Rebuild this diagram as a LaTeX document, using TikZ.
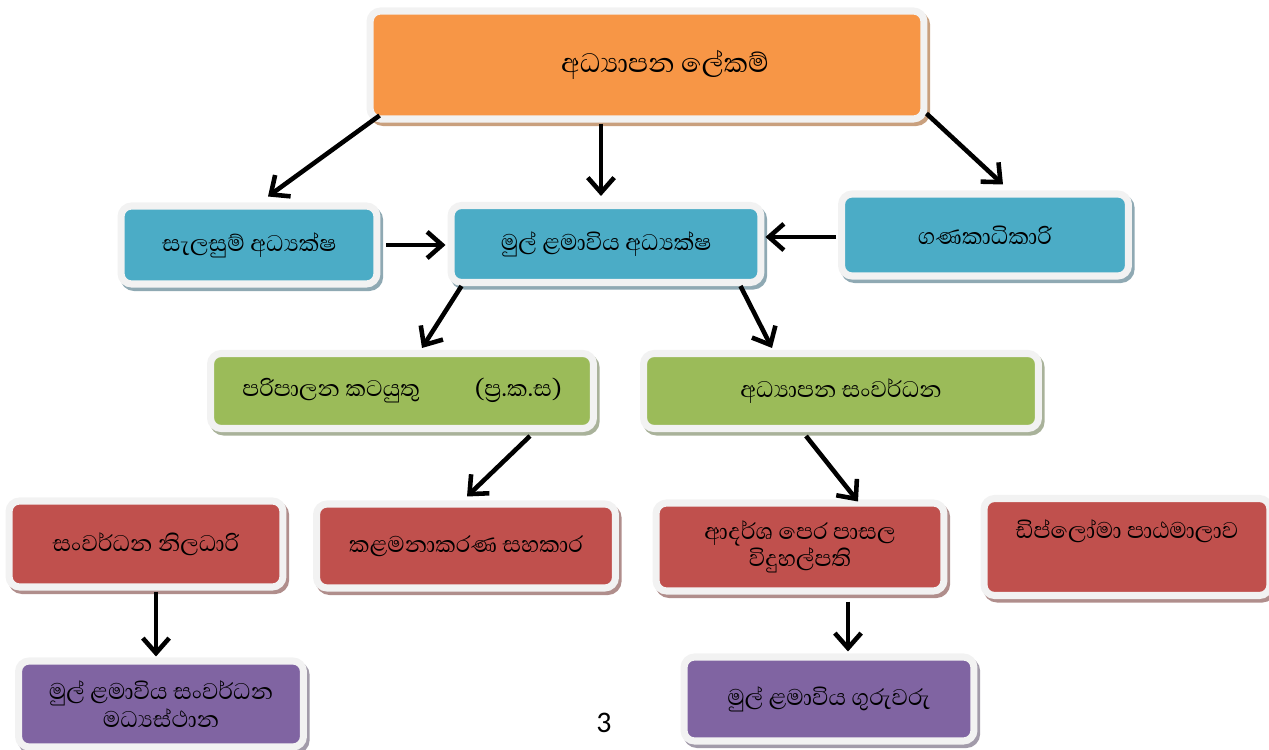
\documentclass[tikz,border=0pt]{standalone}
\usepackage{fontspec}
\setmainfont{Carlito}
\newfontfamily\sinhalafont[Script=Sinhala]{Abhaya Libre}
\usetikzlibrary{arrows.meta,shadows,calc}
\definecolor{rim}{HTML}{F2F2F2}
\definecolor{orangefill}{HTML}{F79646}
\definecolor{orangeshade}{HTML}{C9A07E}
\definecolor{bluefill}{HTML}{4BACC6}
\definecolor{blueshade}{HTML}{8FA9B3}
\definecolor{greenfill}{HTML}{9BBB59}
\definecolor{greenshade}{HTML}{A9B29A}
\definecolor{redfill}{HTML}{C0504D}
\definecolor{redshade}{HTML}{B08E8C}
\definecolor{purplefill}{HTML}{8064A2}
\definecolor{purpleshade}{HTML}{A29BAA}
\tikzset{
  box/.style={rounded corners=6pt, draw=rim, line width=4pt, inner sep=0pt,
    align=center, font=\sinhalafont\fontsize{16.5}{15.5}\selectfont},
  shade/.style={general shadow={fill=#1, draw=#1, line width=4pt,
    shadow xshift=1.5pt, shadow yshift=-2pt}},
  orangebox/.style={box, fill=orangefill, shade=orangeshade},
  bluebox/.style={box, fill=bluefill, shade=blueshade},
  greenbox/.style={box, fill=greenfill, shade=greenshade},
  redbox/.style={box, fill=redfill, shade=redshade},
  purplebox/.style={box, fill=purplefill, shade=purpleshade},
  arr/.style={-{Straight Barb[length=8.5pt,width=15pt]}, line width=2.6pt}
}
\begin{document}
\begin{tikzpicture}[x=0.02cm,y=-0.02cm]
    \useasboundingbox (0,0) rectangle (1269,750);
    \node [orangebox, minimum width=11.08cm, minimum height=2.16cm, font=\sinhalafont\fontsize{19.5}{20}\selectfont] (sec) at (647,65) {\hspace*{0.72cm}අධ්^^^^200dයාපන ලේකම්};
    \node [bluebox, minimum width=5.12cm, minimum height=1.56cm] (plan) at (249,245) {සැලසුම් අධ්^^^^200dයක්ෂ};
    \node [bluebox, minimum width=6.2cm, minimum height=1.54cm] (ecd) at (606,244) {මුල් ළමාවිය අධ්^^^^200dයක්ෂ};
    \node [bluebox, minimum width=5.74cm, minimum height=1.64cm] (acct) at (985,235) {ගණකාධිකාරි};
    \node [greenbox, minimum width=7.66cm, minimum height=1.5cm] (admin) at (402,391) {පරිපාලන කටයුතු\hspace{1.1cm}(ප්^^^^200dර.ක.ස)};
    \node [greenbox, minimum width=7.9cm, minimum height=1.5cm] (dev) at (841,391) {අධ්^^^^200dයාපන සංවර්ධන};
    \node [redbox, minimum width=5.48cm, minimum height=1.72cm] (devoff) at (146,544) {සංවර්ධන නිලධාරි};
    \node [redbox, minimum width=5.98cm, minimum height=1.68cm] (mgmt) at (466,546) {කළමනාකරණ සහකාර};
    \node [redbox, minimum width=5.76cm, minimum height=1.76cm] (prin) at (800,547) {ආදර්ශ පෙර පාසල\\විදුහල්පති};
    \node [redbox, minimum width=5.72cm, minimum height=1.94cm] (dipl) at (1127,547) {ඩිප්ලෝමා පාඨමාලාව\\ \strut};
    \node [purplebox, minimum width=5.7cm, minimum height=1.72cm] (ecdc) at (161,704) {මුල් ළමාවිය සංවර්ධන\\මධ්^^^^200dයස්ථාන};
    \node [purplebox, minimum width=5.8cm, minimum height=1.68cm] (teach) at (829,699) {මුල් ළමාවිය ගුරුවරු};
    \node [font=\fontsize{17}{18}\selectfont] (pagenum) at (604,723) {3};
    \draw[arr] ($(sec.south west)+(13,-7)$) -- ($(plan.north)+(19,-6)$);
    \draw[arr] ($(sec.south)+(-46,1)$) -- ($(ecd.north)+(-5,-6)$);
    \draw[arr] ($(sec.south east)+(-1,-9)$) -- ($(acct.north)+(18,-6)$);
    \draw[arr] ($(plan.east)+(6,0)$) -- ($(ecd.west)+(-2,1)$);
    \draw[arr] ($(acct.west)+(-2,2)$) -- ($(ecd.east)+(1,-7)$);
    \draw[arr] ($(ecd.south west)+(14,0)$) -- ($(admin.north)+(20,-2)$);
    \draw[arr] ($(ecd.south east)+(-24,0)$) -- ($(dev.north)+(-69,-2)$);
    \draw[arr] ($(admin.south)+(128,4)$) -- ($(mgmt.north)+(1,-4)$);
    \draw[arr] ($(dev.south)+(-35,4)$) -- ($(prin.north)+(58,2)$);
    \draw[arr] ($(devoff.south)+(10,1)$) -- ($(ecdc.north)+(-5,-1)$);
    \draw[arr] ($(prin.south)+(48,7)$) -- ($(teach.north)+(19,-2)$);
\end{tikzpicture}
\end{document}
